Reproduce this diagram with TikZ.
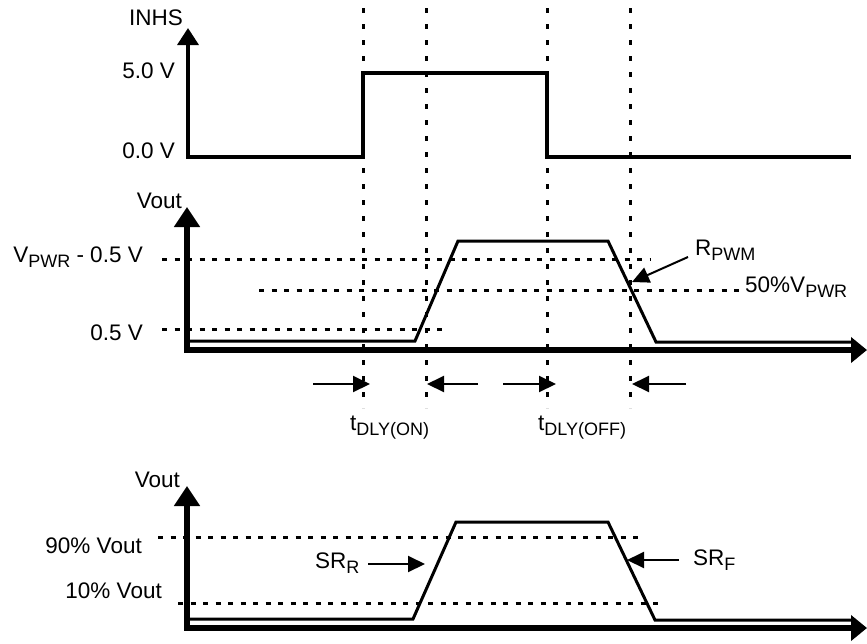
\documentclass[tikz,border=0pt]{standalone}
\usepackage{fontspec}
\setmainfont{Liberation Sans}
\usetikzlibrary{arrows.meta}
\tikzstyle{lbl} = [inner sep=0pt, font=\fontsize{22.5}{22.5}\selectfont]
\tikzstyle{axis} = [line width=5.5pt, line cap=rect, -{Triangle[length=20pt,width=25pt]}]
\tikzstyle{taxis} = [line width=5.5pt, line cap=rect, -{Triangle[length=16pt,width=25pt]}]
\tikzstyle{wave} = [line width=3pt, line join=miter]
\tikzstyle{vdots} = [line width=3pt, dash pattern=on 5pt off 11pt]
\tikzstyle{hdots} = [line width=3pt, dash pattern=on 5pt off 7.5pt]
\tikzstyle{arrow} = [line width=2pt, -{Triangle[length=17pt,width=16pt]}]
\newcommand{\sbs}[1]{\raisebox{-5pt}{\fontsize{18}{18}\selectfont #1}}

\begin{document}
\begin{tikzpicture}[x=1pt, y=-1pt]
\useasboundingbox (0,0) rectangle (867,643);

% guide lines
\foreach \x in {363,426,547,630}
  \draw [vdots] (\x,8) -- (\x,408);
\draw [hdots] (162,259) -- (650,259);
\draw [hdots] (259,290) -- (743,290);
\draw [hdots] (162,329) -- (442,329);
\draw [hdots] (158,537) -- (645,537);
\draw [hdots] (178,603) -- (665,603);

% INHS
\draw [wave, line width=3.5pt, -{Triangle[length=17pt,width=21pt]}] (851,157) -- (547,157) -- (547,73) -- (363,73) -- (363,157) -- (188,157) -- (188,28);
\node (inhs) [lbl, anchor=base east] at (183,25) {INHS};
\node (vfive) [lbl, anchor=base east] at (175,78) {5.0 V};
\node (vzero) [lbl, anchor=base east] at (175,158) {0.0 V};

% Vout, delays
\draw [axis] (187,350) -- (187,207);
\draw [taxis] (187,350) -- (867,350);
\draw [wave] (190,341) -- (415,341) -- (458,241) -- (608,241) -- (656,342) -- (855,342);
\node (vout1) [lbl, anchor=base east] at (182,208) {Vout};
\node (vhigh) [lbl, anchor=base east] at (143,262) {V\sbs{PWR} - 0.5 V};
\node (vlow) [lbl, anchor=base east] at (143,340) {0.5 V};
\node (rpwm) [lbl, anchor=base west] at (695,255) {R\sbs{PWM}};
\node (half) [lbl, anchor=base west] at (745,292) {50\%V\sbs{PWR}};
\node (ton) [lbl, anchor=base west] at (350,430) {t\sbs{DLY(ON)}};
\node (toff) [lbl, anchor=base west] at (538,430) {t\sbs{DLY(OFF)}};

\coordinate (r1) at (688,257);
\coordinate (r2) at (632,282);
\draw [arrow] (r1) -- (r2);
\coordinate (a1) at (313,384);
\coordinate (a2) at (370,384);
\coordinate (b1) at (478,384);
\coordinate (b2) at (427,384);
\coordinate (c1) at (503,384);
\coordinate (c2) at (556,384);
\coordinate (d1) at (686,384);
\coordinate (d2) at (632,384);
\draw [arrow] (a1) -- (a2);
\draw [arrow] (b1) -- (b2);
\draw [arrow] (c1) -- (c2);
\draw [arrow] (d1) -- (d2);

% slew rate
\draw [axis] (187,628) -- (187,486);
\draw [taxis] (187,628) -- (867,628);
\draw [wave] (190,619) -- (413,619) -- (456,522) -- (608,522) -- (655,620) -- (855,620);
\node (vout2) [lbl, anchor=base east] at (180,487) {Vout};
\node (vninety) [lbl, anchor=base east] at (142,553) {90\% Vout};
\node (vten) [lbl, anchor=base east] at (162,598) {10\% Vout};
\node (srr) [lbl, anchor=base west] at (315,568) {SR\sbs{R}};
\node (srf) [lbl, anchor=base west] at (693,565) {SR\sbs{F}};

\coordinate (s1) at (368,564);
\coordinate (s2) at (425,564);
\coordinate (f1) at (679,560);
\coordinate (f2) at (627,560);
\draw [arrow] (s1) -- (s2);
\draw [arrow] (f1) -- (f2);
\end{tikzpicture}
\end{document}
